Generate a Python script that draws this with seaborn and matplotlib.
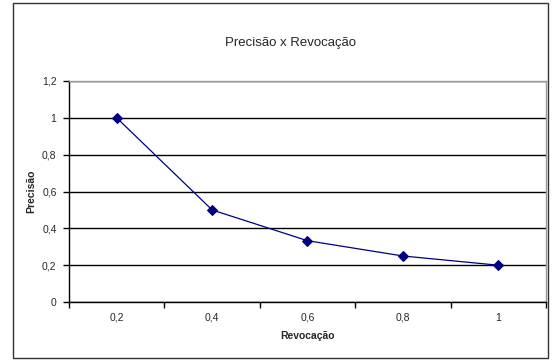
import matplotlib
matplotlib.use("Agg")
import matplotlib.pyplot as plt
from matplotlib.patches import Rectangle
import numpy as np
import pandas as pd
import seaborn as sns

revocacao = ["0,2", "0,4", "0,6", "0,8", "1"]
precisao = [1.0, 0.5, 0.333, 0.25, 0.2]
y_ticks = [0, 0.2, 0.4, 0.6, 0.8, 1.0, 1.2]
y_labels = ["0", "0,2", "0,4", "0,6", "0,8", "1", "1,2"]

sns.set_style("white")
plt.rcParams['font.family'] = ['Liberation Sans', 'DejaVu Sans']

df = pd.DataFrame({"Revocação": revocacao, "Precisão": precisao})

fig = plt.figure(figsize=(5.53, 3.6), dpi=100)
ax = fig.add_axes([0.1248, 0.161, 0.8625, 0.614])

sns.lineplot(data=df, x="Revocação", y="Precisão", ax=ax, color="#000080",
             linewidth=0.9, marker="D", markersize=5.5, markeredgecolor="#000080",
             sort=False)

ax.set_xlim(-0.5, len(revocacao) - 0.5)
ax.set_ylim(0, 1.2)
ax.set_yticks(y_ticks)
ax.set_yticklabels(y_labels, fontsize=7.5)
ax.set_xticks(range(len(revocacao)))
ax.set_xticklabels(revocacao, fontsize=7.5)
for lab in ax.get_xticklabels():
    lab.set_verticalalignment("baseline")
ax.set_xticks(np.arange(-0.5, len(revocacao)), minor=True)
ax.tick_params(axis="x", which="major", length=0, pad=13.5)
ax.tick_params(axis="x", which="minor", length=4, width=1, color="black", bottom=True)
ax.tick_params(axis="y", length=4, width=1, color="black", left=True, pad=5)
ax.yaxis.grid(True, color="black", linewidth=1)
ax.set_axisbelow(True)

for s in ["left", "bottom"]:
    ax.spines[s].set_color("black")
    ax.spines[s].set_linewidth(1)
for s in ["top", "right"]:
    ax.spines[s].set_color("#999999")
    ax.spines[s].set_linewidth(1)

ax.set_xlabel("Revocação", fontsize=7.5, fontweight="bold", labelpad=6)
ax.set_ylabel("Precisão", fontsize=7.5, fontweight="bold", labelpad=4)
fig.text(0.525, 0.88, "Precisão x Revocação", ha="center", va="center", fontsize=9.5)

fig.patches.append(Rectangle((0.023, 0.006), 0.968, 0.986, transform=fig.transFigure,
                             fill=False, edgecolor="#333333", linewidth=1))

fig.savefig("out.png", dpi=100)
